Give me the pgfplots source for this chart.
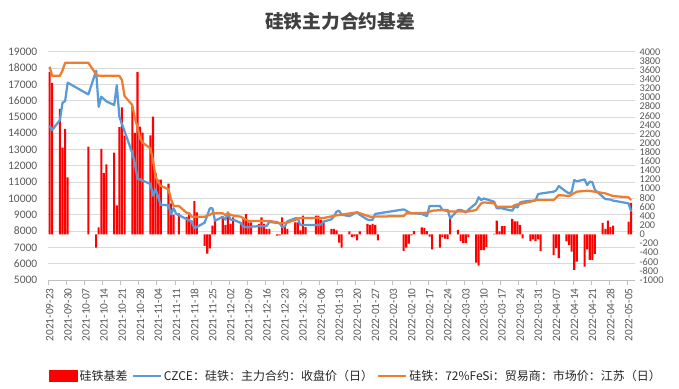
\documentclass[border=0pt]{standalone}
\usepackage{fontspec}
\setmainfont{Carlito}
\newfontfamily\cjk{Noto Sans CJK SC}
\usepackage{pgfplots}
\pgfplotsset{compat=1.18}
\definecolor{labelgray}{HTML}{595959}
\definecolor{gridgray}{HTML}{D9D9D9}
\definecolor{axisgray}{HTML}{BFBFBF}
\definecolor{exblue}{HTML}{5B9BD5}
\definecolor{exorange}{HTML}{ED7D31}
\definecolor{exred}{HTML}{FF0000}
\definecolor{titlegray}{HTML}{404040}
\definecolor{legtext}{HTML}{262626}
\pgfplotsset{
  base/.style={
    scale only axis, width=586.7pt, height=228.3pt,
    xmin=-0.5, xmax=226.5,
    at={(48.3pt,108pt)}, anchor=south west,
    scaled y ticks=false, scaled x ticks=false,
    /pgf/number format/assume math mode=true,
    /pgf/number format/1000 sep={},
    tick label style={font=\fontsize{11.5}{13}\selectfont, text=labelgray},
  }
}
\begin{document}
\begin{tikzpicture}
\useasboundingbox (0pt,0pt) rectangle (679pt,388pt);

% Axis A: grid, left ticks, date axis
\begin{axis}[base,
  ymin=5000, ymax=19000,
  ytick={5000,6000,...,19000},
  ymajorgrids, grid style={draw=gridgray, line width=0.8pt},
  axis x line*=bottom, axis y line*=left,
  x axis line style={-, draw=axisgray, line width=0.8pt},
  y axis line style={-, draw=none},
  ytick style={draw=none},
  yticklabel style={xshift=-2.5pt},
  xtick={-0.5,6.5,...,223.5},
  tick align=outside, major tick length=5pt,
  xtick style={draw=axisgray, line width=0.8pt},
  xticklabels={2021-09-23,2021-09-30,2021-10-07,2021-10-14,2021-10-21,2021-10-28,2021-11-04,2021-11-11,2021-11-18,2021-11-25,2021-12-02,2021-12-09,2021-12-16,2021-12-23,2021-12-30,2022-01-06,2022-01-13,2022-01-20,2022-01-27,2022-02-03,2022-02-10,2022-02-17,2022-02-24,2022-03-03,2022-03-10,2022-03-17,2022-03-24,2022-03-31,2022-04-07,2022-04-14,2022-04-21,2022-04-28,2022-05-05},
  xticklabel style={xshift=1.5pt, rotate=90, anchor=east, font=\fontsize{11.3}{13}\selectfont},
]
\addplot[draw=none, forget plot] coordinates {(0,5000)};
\end{axis}

% Axis B: basis bars on right axis
\begin{axis}[base,
  ymin=-1000, ymax=4000,
  axis y line*=right, axis x line=none,
  y axis line style={-, draw=none},
  ytick={-1000,-800,...,4000},
  ytick style={draw=none},
  yticklabel style={font=\fontsize{10.3}{11}\selectfont, inner ysep=0pt, xshift=1pt},
]
\addplot[ybar, bar width=0.8, fill=exred, draw=none] coordinates {
(0,3560)(1,3320)(4,2750)(5,1900)(6,2310)(7,1250)(15,1920)(18,-290)(19,150)(20,1870)(21,1340)(22,1530)
(25,1790)(26,635)(27,2350)(28,2780)(29,2160)(32,2800)(33,2220)(34,3550)(35,2360)(36,2230)
(39,2170)(40,2580)(41,1340)(42,1200)(43,1200)(46,1110)(47,680)(48,430)(50,460)
(53,380)(54,440)(55,300)(56,730)(57,480)(60,-250)(61,-420)(62,-310)(63,190)(64,330)
(67,380)(68,210)(69,500)(70,230)(71,370)(74,264)(75,336)(76,444)(77,264)(78,264)
(81,228)(82,372)(83,228)(84,121)(85,121)(88,-30)(89,-20)(90,372)(91,193)(92,121)
(95,264)(96,264)(97,85)(98,408)(99,157)(103,408)(104,408)(105,322)(106,264)
(109,121)(110,121)(111,85)(112,-181)(113,-289)(116,63)(117,-59)(118,-45)(119,-131)(120,63)
(123,228)(124,207)(125,228)(126,207)(127,-131)(137,-361)(138,-289)(139,-203)(140,-23)(141,70)
(144,150)(145,140)(146,70)(147,-50)(148,-330)(151,-290)(152,-60)(153,-95)(154,-105)(155,336)
(158,100)(159,-150)(160,-190)(161,-190)(162,-60)(165,-620)(166,-684)(167,-346)(168,-346)(169,-274)
(172,10)(173,300)(174,63)(175,179)(176,179)(179,336)(180,286)(181,286)(182,210)(183,-90)
(186,-150)(187,-108)(188,-150)(189,-108)(190,-365)(195,-454)(196,-300)(197,-520)
(200,-152)(201,-237)(202,-380)(203,-780)(204,-600)(207,-705)(208,-330)(209,-560)(210,-560)(211,-430)
(214,250)(215,120)(216,300)(217,160)(218,193)(224,280)(225,690)
};
\end{axis}

% Axis C: price lines on left scale, legend
\begin{axis}[base,
  ymin=5000, ymax=19000, hide axis,
  legend image code/.code={\draw[#1, line cap=butt] (0pt,0pt) -- (28pt,0pt);},
  legend columns=3,
  legend style={at={(0.5245,-0.4205)}, anchor=center, draw=none, fill=none,
    font=\cjk\fontsize{12}{14}\selectfont, text=legtext,
    nodes={inner xsep=2pt, inner ysep=1pt},
    /tikz/every even column/.append style={column sep=2pt}},
]
\addlegendimage{legend image code/.code={\fill[exred] (0pt,-5.5pt) rectangle (28pt,5.5pt);}}
\addlegendentry{硅铁基差}
\addplot[exblue, line width=2.25pt, line join=round, no markers] coordinates {
(0,14460)(1,14200)(4,14810)(5,15870)(6,15970)(7,17100)(15,16380)(18,17830)(19,15620)(20,16240)
(21,16100)(22,15950)(25,15730)(26,16950)(27,15010)(32,12790)(33,12150)(34,11230)(39,10890)
(40,10170)(41,10560)(42,10110)(43,9600)(46,9585)(47,9030)(48,9400)(49,9050)(55,8575)(56,8170)
(60,8515)(62,9395)(63,9395)(64,8635)(67,8880)(68,8700)(69,9100)(70,8700)(71,8700)(74,8500)
(75,8270)(76,8250)(77,8230)(78,8270)(81,8300)(82,8300)(83,8300)(84,8320)(85,8560)(88,8500)
(89,8480)(90,8250)(91,8280)(92,8600)(95,8780)(96,8780)(97,8380)(98,8370)(99,8370)(103,8370)
(104,8370)(105,8400)(106,8580)(109,8720)(110,8900)(111,9190)(112,9250)(113,9000)(116,8920)
(117,9000)(118,9100)(119,9150)(120,9000)(123,8700)(124,8680)(125,8700)(126,9050)(127,9080)
(137,9330)(138,9250)(139,9150)(140,9090)(141,9090)(144,9050)(145,8985)(146,8920)(147,9540)
(148,9540)(151,9540)(152,9300)(153,9300)(154,9300)(155,8780)(158,9290)(159,9290)(160,9250)
(161,9130)(162,9300)(165,9700)(166,10070)(167,9900)(168,10000)(169,9950)(172,9800)(173,9400)
(174,9400)(175,9400)(176,9350)(179,9250)(180,9500)(181,9450)(182,9740)(183,9800)(186,9860)
(187,9860)(188,9870)(189,10270)(190,10300)(195,10415)(196,10500)(197,10760)(200,10400)
(201,10313)(202,10400)(203,11130)(204,11050)(207,11170)(208,10820)(209,11030)(210,11000)
(211,10520)(214,10110)(215,9965)(216,9950)(217,9930)(218,9870)(224,9700)(225,9200)
};
\addlegendentry{CZCE：硅铁：主力合约：收盘价（日）}
\addplot[exorange, line width=2.25pt, line join=round, no markers] coordinates {
(0,18080)(1,17520)(4,17520)(5,17850)(6,18320)(7,18320)(15,18320)(18,17610)(19,17520)(27,17520)
(28,17260)(29,16280)(32,15730)(33,14910)(34,14400)(35,13690)(36,13420)(39,13070)(40,12360)
(41,11330)(42,11000)(43,10780)(46,10560)(47,9950)(48,9540)(50,9540)(53,9125)(54,9100)
(55,8880)(60,8880)(62,9000)(63,9090)(67,9090)(68,8985)(69,9090)(70,9000)(71,8950)(74,8880)
(75,8780)(76,8700)(77,8620)(85,8617)(88,8550)(89,8476)(92,8520)(97,8800)(106,8800)(111,8964)
(119,9148)(124,8882)(137,8920)(138,9087)(146,9120)(148,9250)(152,9290)(155,9200)(162,9200)
(165,9290)(167,9700)(168,9760)(172,9700)(173,9495)(179,9495)(180,9600)(183,9700)(186,9800)
(188,9904)(195,9904)(197,10210)(201,10150)(204,10415)(208,10476)(211,10415)(215,10313)
(218,10150)(224,10067)(225,9904)
};
\addlegendentry{硅铁：72\%FeSi：贸易商：市场价：江苏（日）}
\end{axis}

\node[text=titlegray, font=\cjk\bfseries\fontsize{18.7}{20}\selectfont] at (340pt,366.3pt) {硅铁主力合约基差};
\end{tikzpicture}
\end{document}
